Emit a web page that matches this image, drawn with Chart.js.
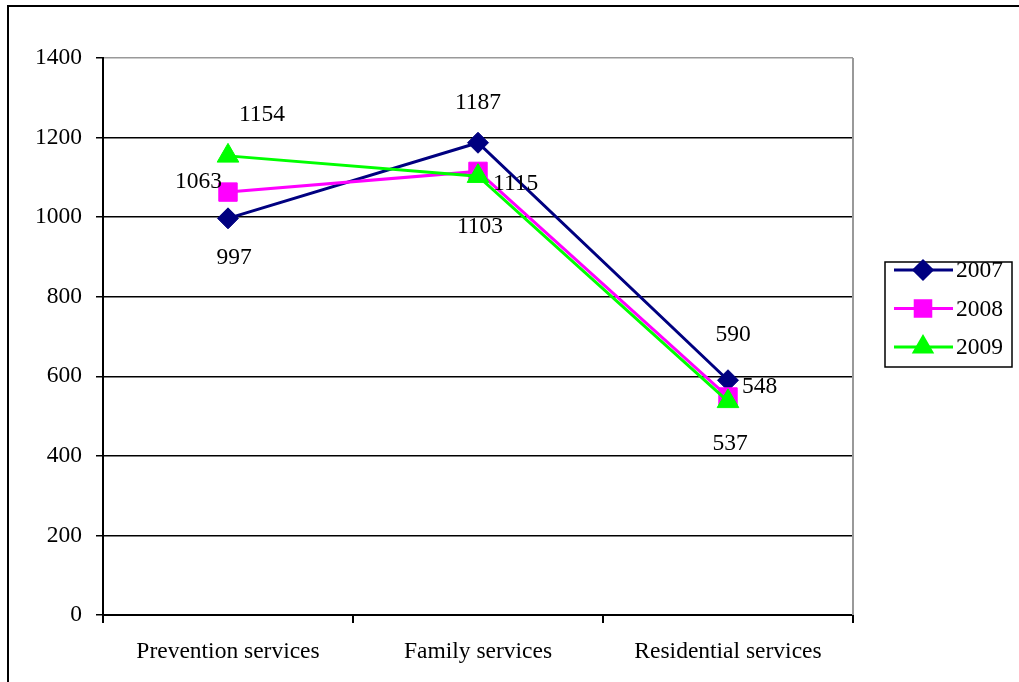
<!DOCTYPE html>
<html>
<head>
<meta charset="utf-8">
<script src="https://cdn.jsdelivr.net/npm/chart.js@4"></script>
<style>
  html, body { margin: 0; padding: 0; background: #fff; }
  #wrap { position: relative; width: 1019px; height: 682px; overflow: hidden; }
  #frame { position: absolute; left: 7px; top: 5px; width: 1030px; height: 700px; border-left: 2px solid #000; border-top: 2px solid #000; }
  canvas { position: absolute; left: 0; top: 0; }
</style>
</head>
<body>
<div id="wrap">
  <div id="frame"></div>
  <canvas id="chart" width="1019" height="682"></canvas>
</div>
<script>
const categories = ['Prevention services', 'Family services', 'Residential services'];
const years = ['2007', '2008', '2009'];
const values2007 = [997, 1187, 590];
const values2008 = [1063, 1115, 548];
const values2009 = [1154, 1103, 537];
const yTicks = [0, 200, 400, 600, 800, 1000, 1200, 1400];

// label offsets relative to each point (dx, dy, align)
const labelPos = [
    [[6, 39, 'center'], [0, -40, 'center'], [5, -45, 'center']],
    [[-6, -10, 'right'], [15, 12, 'left'], [14, -10, 'left']],
    [[34, -41, 'center'], [2, 51, 'center'], [2, 42, 'center']]
];

const font = '"Liberation Serif", "Times New Roman", serif';
const fontSize = 23.5;

const extras = {
    id: 'extras',
    afterDraw(chart) {
        const ctx = chart.ctx;
        const area = chart.chartArea;
        ctx.save();
        // right border of plot area
        ctx.strokeStyle = '#999';
        ctx.lineWidth = 2;
        ctx.beginPath();
        ctx.moveTo(area.right, area.top);
        ctx.lineTo(area.right, area.bottom);
        ctx.stroke();

        // data labels
        ctx.fillStyle = '#000';
        ctx.font = fontSize + 'px ' + font;
        ctx.textBaseline = 'middle';
        chart.data.datasets.forEach((ds, i) => {
            chart.getDatasetMeta(i).data.forEach((pt, j) => {
                const p = labelPos[i][j];
                ctx.textAlign = p[2];
                ctx.fillText(String(ds.data[j]), pt.x + p[0], pt.y + p[1]);
            });
        });

        // legend
        const lx = 885, ly = 262, lw = 127, lh = 105;
        ctx.fillStyle = '#fff';
        ctx.fillRect(lx, ly, lw, lh);
        ctx.strokeStyle = '#000';
        ctx.lineWidth = 1.5;
        ctx.strokeRect(lx, ly, lw, lh);
        const legendRadius = [9, 11, 10];
        chart.data.datasets.forEach((ds, i) => {
            const y = 270 + i * 38.5;
            ctx.strokeStyle = ds.borderColor;
            ctx.lineWidth = 3;
            ctx.beginPath();
            ctx.moveTo(894, y);
            ctx.lineTo(953, y);
            ctx.stroke();
            ctx.fillStyle = ds.backgroundColor;
            ctx.strokeStyle = ds.backgroundColor;
            Chart.helpers.drawPoint(ctx, {
                pointStyle: ds.pointStyle,
                radius: legendRadius[i],
                rotation: 0,
                borderWidth: 1
            }, 923, y);
            ctx.fillStyle = '#000';
            ctx.font = fontSize + 'px ' + font;
            ctx.textAlign = 'left';
            ctx.textBaseline = 'middle';
            ctx.fillText(ds.label, 956, y + 1);
        });
        ctx.restore();
    }
};

const makeSet = (label, data, color, style, radius, order) => ({
    label: label,
    data: data,
    borderColor: color,
    backgroundColor: color,
    borderWidth: 3,
    pointStyle: style,
    pointRadius: radius,
    pointHoverRadius: radius,
    pointBorderWidth: 1,
    tension: 0,
    fill: false,
    order: order
});

new Chart(document.getElementById('chart'), {
    type: 'line',
    data: {
        labels: categories,
        datasets: [
            makeSet(years[0], values2007, '#000080', 'rectRot', 10.5, 3),
            makeSet(years[1], values2008, '#ff00ff', 'rect', 13, 2),
            makeSet(years[2], values2009, '#00ff00', 'triangle', 12.5, 1)
        ]
    },
    options: {
        responsive: false,
        animation: false,
        events: [],
        layout: { padding: { left: 10, right: 166, top: 58, bottom: 17 } },
        plugins: { legend: { display: false }, tooltip: { enabled: false } },
        scales: {
            x: {
                offset: true,
                grid: { offset: true, drawOnChartArea: false, color: '#000', lineWidth: 2, tickLength: 8 },
                border: { color: '#000', width: 2 },
                ticks: { color: '#000', font: { family: font, size: fontSize }, padding: 15, maxRotation: 0 },
                afterFit: (s) => { s.height = 50; }
            },
            y: {
                min: 0,
                max: 1400,
                afterBuildTicks: (s) => { s.ticks = yTicks.map(v => ({ value: v })); },
                grid: {
                    color: (c) => c.tick && c.tick.value === 1400 ? '#999' : '#000',
                    lineWidth: 1.5,
                    tickLength: 7,
                    tickColor: '#000'
                },
                border: { color: '#000', width: 2 },
                ticks: {
                    color: '#000',
                    font: { family: font, size: fontSize },
                    padding: 14,
                    callback: (v) => String(v)
                },
                afterFit: (s) => { s.width = 93; }
            }
        }
    },
    plugins: [extras]
});
</script>
</body>
</html>
